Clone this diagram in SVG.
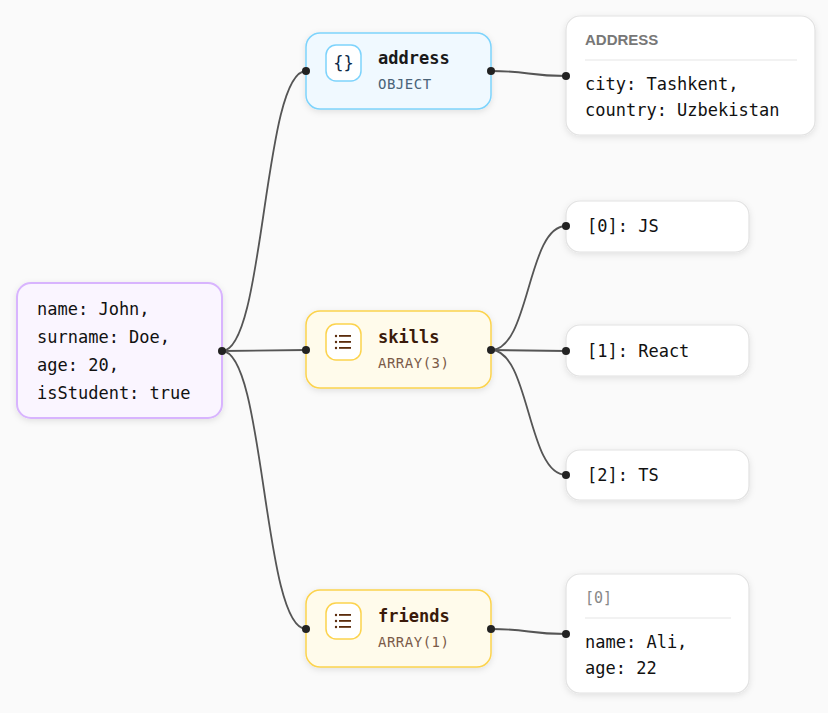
<svg xmlns="http://www.w3.org/2000/svg" width="828" height="713" viewBox="0 0 828 713">
<style>
.m{font-family:"DejaVu Sans Mono","Liberation Mono",monospace;font-size:17px;fill:#111}
.t{font-family:"DejaVu Sans Mono","Liberation Mono",monospace;font-size:17px;font-weight:bold;fill:#1a1a1a}
.s{font-family:"DejaVu Sans Mono","Liberation Mono",monospace;font-size:14px;letter-spacing:0.5px}
.h{font-family:"Liberation Sans",sans-serif;font-size:15px;font-weight:bold;fill:#777}
.e{fill:none;stroke:#555;stroke-width:1.8}
.leaf{fill:#fff;stroke:#e2e2e2;stroke-width:1.2}
</style>
<defs>
<filter id="sh" x="-20%" y="-20%" width="140%" height="150%"><feDropShadow dx="0" dy="2" stdDeviation="3" flood-color="#000" flood-opacity="0.1"/></filter>
</defs>
<rect width="828" height="713" fill="#fafafa"/>
<g id="connectors">
<path class="e" d="M222 351 C265 351 263 71 306 71"/>
<path class="e" d="M222 351 L306 350"/>
<path class="e" d="M222 351 C265 351 263 629 306 629"/>
<path class="e" d="M491 71 C530 71 527 76 566 76"/>
<path class="e" d="M491 350 C530 350 527 226 566 226"/>
<path class="e" d="M491 350 L566 351"/>
<path class="e" d="M491 350 C530 350 527 475 566 475"/>
<path class="e" d="M491 629 C530 629 527 634 566 634"/>
</g>
<g id="root">
<rect x="17" y="283" width="205" height="135" rx="14" fill="#faf5ff" stroke="#d8b4fe" stroke-width="2" filter="url(#sh)"/>
<text class="m" x="37" y="315">name: John,</text>
<text class="m" x="37" y="343">surname: Doe,</text>
<text class="m" x="37" y="371">age: 20,</text>
<text class="m" x="37" y="399">isStudent: true</text>
<circle cx="222" cy="351" r="4" fill="#222"/>
</g>
<g id="address">
<rect x="306" y="33" width="185" height="76" rx="14" fill="#f0f9ff" stroke="#7dd3fc" stroke-width="1.5" filter="url(#sh)"/>
<rect x="326" y="45" width="35" height="36" rx="10" fill="#fff" stroke="#7dd3fc" stroke-width="1.5"/>
<text x="343.5" y="69" text-anchor="middle" style="font-family:'DejaVu Sans Mono',monospace;font-size:17px;fill:#0c2a4a">{}</text>
<text class="t" x="378" y="64">address</text>
<text class="s" x="378" y="89" fill="#4a6378">OBJECT</text>
<circle cx="306" cy="71" r="4" fill="#222"/><circle cx="491" cy="71" r="4" fill="#222"/>
</g>
<g id="skills">
<rect x="306" y="311" width="185" height="77" rx="14" fill="#fffbeb" stroke="#fcd34d" stroke-width="1.5" filter="url(#sh)"/>
<rect x="326" y="324" width="35" height="36" rx="10" fill="#fff" stroke="#fcd34d" stroke-width="1.5"/>
<g fill="#5b2c0c"><circle cx="336" cy="336" r="1.2"/><circle cx="336" cy="342" r="1.2"/><circle cx="336" cy="348" r="1.2"/><rect x="339" y="335" width="12" height="1.8"/><rect x="339" y="341" width="12" height="1.8"/><rect x="339" y="347" width="12" height="1.8"/></g>
<text class="t" x="378" y="343" style="fill:#3a1a0a">skills</text>
<text class="s" x="378" y="368" fill="#7a5a48">ARRAY(3)</text>
<circle cx="306" cy="350" r="4" fill="#222"/><circle cx="491" cy="350" r="4" fill="#222"/>
</g>
<g id="friends">
<rect x="306" y="590" width="185" height="77" rx="14" fill="#fffbeb" stroke="#fcd34d" stroke-width="1.5" filter="url(#sh)"/>
<rect x="326" y="603" width="35" height="36" rx="10" fill="#fff" stroke="#fcd34d" stroke-width="1.5"/>
<g fill="#5b2c0c"><circle cx="336" cy="615" r="1.2"/><circle cx="336" cy="621" r="1.2"/><circle cx="336" cy="627" r="1.2"/><rect x="339" y="614" width="12" height="1.8"/><rect x="339" y="620" width="12" height="1.8"/><rect x="339" y="626" width="12" height="1.8"/></g>
<text class="t" x="378" y="622" style="fill:#3a1a0a">friends</text>
<text class="s" x="378" y="647" fill="#7a5a48">ARRAY(1)</text>
<circle cx="306" cy="629" r="4" fill="#222"/><circle cx="491" cy="629" r="4" fill="#222"/>
</g>
<g id="addressDetail">
<rect class="leaf" x="566" y="16" width="249" height="119" rx="14" filter="url(#sh)"/>
<text class="h" x="585" y="45">ADDRESS</text>
<line x1="585" y1="60" x2="797" y2="60" stroke="#e5e5e5"/>
<text class="m" x="585" y="90">city: Tashkent,</text>
<text class="m" x="585" y="116">country: Uzbekistan</text>
<circle cx="566" cy="76" r="4" fill="#222"/>
</g>
<g id="js">
<rect class="leaf" x="566" y="201" width="183" height="51" rx="14" filter="url(#sh)"/>
<text class="m" x="587" y="232">[0]: JS</text>
<circle cx="566" cy="226" r="4" fill="#222"/>
</g>
<g id="react">
<rect class="leaf" x="566" y="325" width="183" height="51" rx="14" filter="url(#sh)"/>
<text class="m" x="587" y="357">[1]: React</text>
<circle cx="566" cy="351" r="4" fill="#222"/>
</g>
<g id="ts">
<rect class="leaf" x="566" y="450" width="183" height="50" rx="14" filter="url(#sh)"/>
<text class="m" x="587" y="481">[2]: TS</text>
<circle cx="566" cy="475" r="4" fill="#222"/>
</g>
<g id="friendDetail">
<rect class="leaf" x="566" y="574" width="183" height="119" rx="14" filter="url(#sh)"/>
<text x="585" y="603" style="font-family:'DejaVu Sans Mono',monospace;font-size:15px;fill:#888">[0]</text>
<line x1="585" y1="618" x2="731" y2="618" stroke="#e5e5e5"/>
<text class="m" x="585" y="648">name: Ali,</text>
<text class="m" x="585" y="674">age: 22</text>
<circle cx="566" cy="634" r="4" fill="#222"/>
</g>
</svg>
